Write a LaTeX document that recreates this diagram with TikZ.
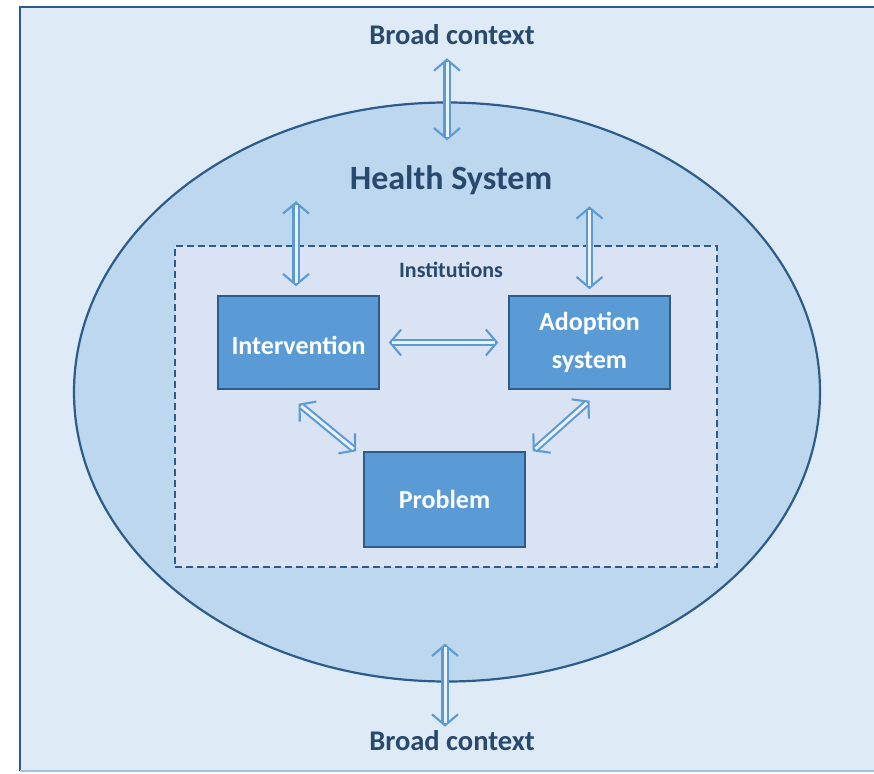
\documentclass[tikz,border=0pt]{standalone}
\usepackage{fontspec}
\setmainfont{Carlito}
\usepackage{xcolor}
\usetikzlibrary{arrows.meta,shapes.geometric}
\definecolor{pageBlue}{HTML}{DEEAF6}
\definecolor{healthBlue}{HTML}{BDD7EE}
\definecolor{instBlue}{HTML}{DAE3F3}
\definecolor{boxBlue}{HTML}{5B9BD5}
\definecolor{lineBlue}{HTML}{2E5C8A}
\definecolor{textBlue}{HTML}{28496E}
\definecolor{arrowBlue}{HTML}{5B9BD5}
\tikzset{%
  % Specifications for style of nodes:
      labeltext/.style = {text=textBlue, font=\bfseries, inner sep=0pt},
       blockbox/.style = {rectangle, draw=lineBlue, line width=1.5pt,
                          fill=boxBlue, text=white, font=\bfseries\fontsize{26}{28}\selectfont,
                          minimum width=161pt, minimum height=93pt,
                          align=center},
  % open heads first, then the double shaft laid over them
       dblarrow/.style = {draw=arrowBlue, line width=2.1pt,
                          {Straight Barb[length=11pt,width=26pt]}-{Straight Barb[length=11pt,width=26pt]},
                          postaction={-, draw=arrowBlue, double=pageBlue!60!white,
                                      double distance=3pt, shorten <=3.5pt, shorten >=3.5pt}},
}

\begin{document}
\begin{tikzpicture}[x=1pt, y=-1pt]
  \useasboundingbox (0,0) rectangle (874,773);
  % Background frame
  \fill[pageBlue] (20,7) rectangle (880,771);
  \draw[lineBlue, line width=2.6pt] (880,7) -- (20,7) -- (20,771);
  \draw[boxBlue!60!white, line width=1.5pt] (20,771) -- (880,771);

  % Specification of nodes (position, etc.)
  \node (health)      [ellipse, draw=lineBlue, line width=2.2pt, fill=healthBlue,
                       minimum width=746pt, minimum height=579pt] at (447,392) {};
  \node (institutions)[rectangle, draw=lineBlue, line width=2pt, dash pattern=on 7pt off 4pt,
                       fill=instBlue, minimum width=542pt, minimum height=321pt] at (446,406.5) {};
  \node (ctxTop)      [labeltext, font=\bfseries\fontsize{28.5}{30}\selectfont] at (452,35) {Broad context};
  \node (ctxBot)      [labeltext, font=\bfseries\fontsize{28.5}{30}\selectfont] at (452,741) {Broad context};
  \node (healthLabel) [labeltext, font=\bfseries\fontsize{34}{36}\selectfont] at (451,180) {Health System};
  \node (instLabel)   [labeltext, font=\fontsize{22}{24}\selectfont\bfseries] at (451,270) {Institutions};
  \node (intervention)[blockbox] at (298.5,342.5) {};
  \node (interventionText) [text=white, font=\bfseries\fontsize{26}{28}\selectfont]
                       at (298.5,345.5) {Intervention};
  \node (adoption)    [blockbox, text width=150pt] at (589.5,342.5) {Adoption\\[10pt]system};
  \node (problem)     [blockbox, minimum height=95pt] at (444.5,499.5) {Problem};

  % Specification of double arrows between nodes specified above
  \draw[dblarrow] ([xshift=-5pt,yshift=-13pt]ctxTop.south) -- ([yshift=-39pt]health.north);
  \draw[dblarrow] ([xshift=-2pt,yshift=39pt]health.south) -- ([xshift=-7pt,yshift=4pt]ctxBot.north);
  \draw[dblarrow] ([xshift=-2.5pt,yshift=94pt]intervention.north)
                  -- ([xshift=-2.5pt,yshift=9pt]intervention.north);
  \draw[dblarrow] ([yshift=89pt]adoption.north) -- ([yshift=6pt]adoption.north);
  \draw[dblarrow] ([xshift=9pt]intervention.east) -- ([xshift=-10pt]adoption.west);
  \draw[dblarrow] ([yshift=-14pt]intervention.south) -- ([xshift=-7pt]problem.north west);
  \draw[dblarrow] ([yshift=-11pt]adoption.south) -- ([xshift=7pt]problem.north east);
\end{tikzpicture}
\end{document}
